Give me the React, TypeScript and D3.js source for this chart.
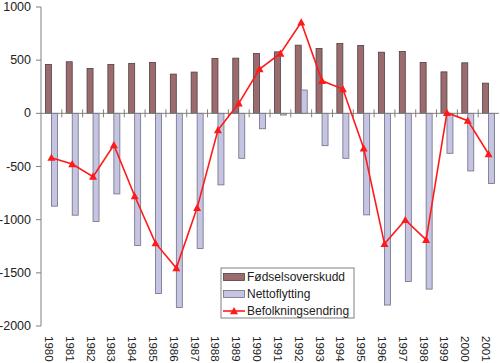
import React from "react";
import * as d3 from "d3";

const years = ["1980","1981","1982","1983","1984","1985","1986","1987","1988","1989","1990","1991","1992","1993","1994","1995","1996","1997","1998","1999","2000","2001"];
const fodselsoverskudd = [460,485,422,460,470,479,369,388,516,519,563,578,641,610,657,638,575,582,479,390,475,284];
const nettoflytting = [-873,-958,-1018,-758,-1243,-1694,-1825,-1271,-673,-423,-145,-16,219,-304,-423,-955,-1803,-1581,-1653,-376,-542,-660];
const befolkningsendring = [-417,-476,-595,-298,-777,-1221,-1455,-889,-157,94,416,563,857,306,228,-329,-1227,-1002,-1190,6,-69,-382];
const yTicks = [1000,500,0,-500,-1000,-1500,-2000];
const seriesNames = ["Fødselsoverskudd","Nettoflytting","Befolkningsendring"];

const W = 500, H = 363;
const FONT = "Liberation Sans, Arial, sans-serif";
const BROWN = "#9c6b6f", BROWN_STROKE = "#4d4040";
const LAV = "#c5c5e3", LAV_STROKE = "#6e6e82";
const RED = "#ff1a1a";

export default function App() {
  const x = d3.scaleBand<string>().domain(years).range([41, 499]).paddingInner(0).paddingOuter(0);
  const y = d3.scaleLinear().domain([-2000, 1000]).range([326, 7]);
  const step = x.bandwidth();
  const bw = 6;
  const cx = (yr: string) => (x(yr) as number) + step / 2;
  const line = d3.line<number>().x((_, i) => cx(years[i])).y(d => y(d));
  const tri = (px: number, py: number) => {
    const s = 4;
    return `M${px},${py - s}L${px + s},${py + s * 0.8}L${px - s},${py + s * 0.8}Z`;
  };
  const y0 = y(0);
  return (
    <svg width={W} height={H} style={{ position: "absolute", left: 0, top: 0, background: "#fff" }} fontFamily={FONT}>
      <rect x={0} y={0} width={W} height={H} fill="#fff" />
      {years.map((yr, i) => {
        const c = cx(yr);
        const v1 = fodselsoverskudd[i];
        const v2 = nettoflytting[i];
        return (
          <g key={yr}>
            <rect x={c - bw} y={Math.min(y(v1), y0)} width={bw} height={Math.abs(y(v1) - y0)} fill={BROWN} stroke={BROWN_STROKE} strokeWidth={0.8} />
            <rect x={c} y={Math.min(y(v2), y0)} width={bw} height={Math.abs(y(v2) - y0)} fill={LAV} stroke={LAV_STROKE} strokeWidth={0.8} />
          </g>
        );
      })}
      <line x1={41} x2={41} y1={y(1000)} y2={y(-2000)} stroke="#808080" strokeWidth={1} />
      {yTicks.map(t => (
        <g key={t}>
          <line x1={36} x2={41} y1={y(t)} y2={y(t)} stroke="#808080" strokeWidth={1} />
          <text x={31} y={y(t)} textAnchor="end" dominantBaseline="central" fontSize={12.5} fill="#222">{t}</text>
        </g>
      ))}
      <line x1={41} x2={499} y1={y0} y2={y0} stroke="#808080" strokeWidth={1} />
      {years.map((yr, i) => i > 0 ? (
        <line key={"t" + yr} x1={x(yr) as number} x2={x(yr) as number} y1={y0 - 4} y2={y0 + 4} stroke="#808080" strokeWidth={1} />
      ) : null)}
      <path d={line(befolkningsendring) || ""} fill="none" stroke={RED} strokeWidth={1.6} />
      {befolkningsendring.map((v, i) => (
        <path key={"m" + i} d={tri(cx(years[i]), y(v))} fill={RED} />
      ))}
      {years.map(yr => (
        <text key={"l" + yr} transform={`translate(${cx(yr) - 2.5},${336}) rotate(90)`} textAnchor="start" dominantBaseline="central" fontSize={11.5} fill="#222">{yr}</text>
      ))}
      <rect x={221} y={268} width={133} height={50} fill="#fff" stroke="#808080" strokeWidth={1} />
      <rect x={223.5} y={273.5} width={21} height={7} fill={BROWN} stroke={BROWN_STROKE} strokeWidth={0.8} />
      <rect x={223.5} y={290.5} width={21} height={7} fill={LAV} stroke={LAV_STROKE} strokeWidth={0.8} />
      <line x1={223} x2={245} y1={311} y2={311} stroke={RED} strokeWidth={1.6} />
      <path d={tri(234, 311)} fill={RED} />
      {seriesNames.map((n, i) => (
        <text key={n} x={247} y={277 + i * 17} dominantBaseline="central" fontSize={12} fill="#222">{n}</text>
      ))}
    </svg>
  );
}
